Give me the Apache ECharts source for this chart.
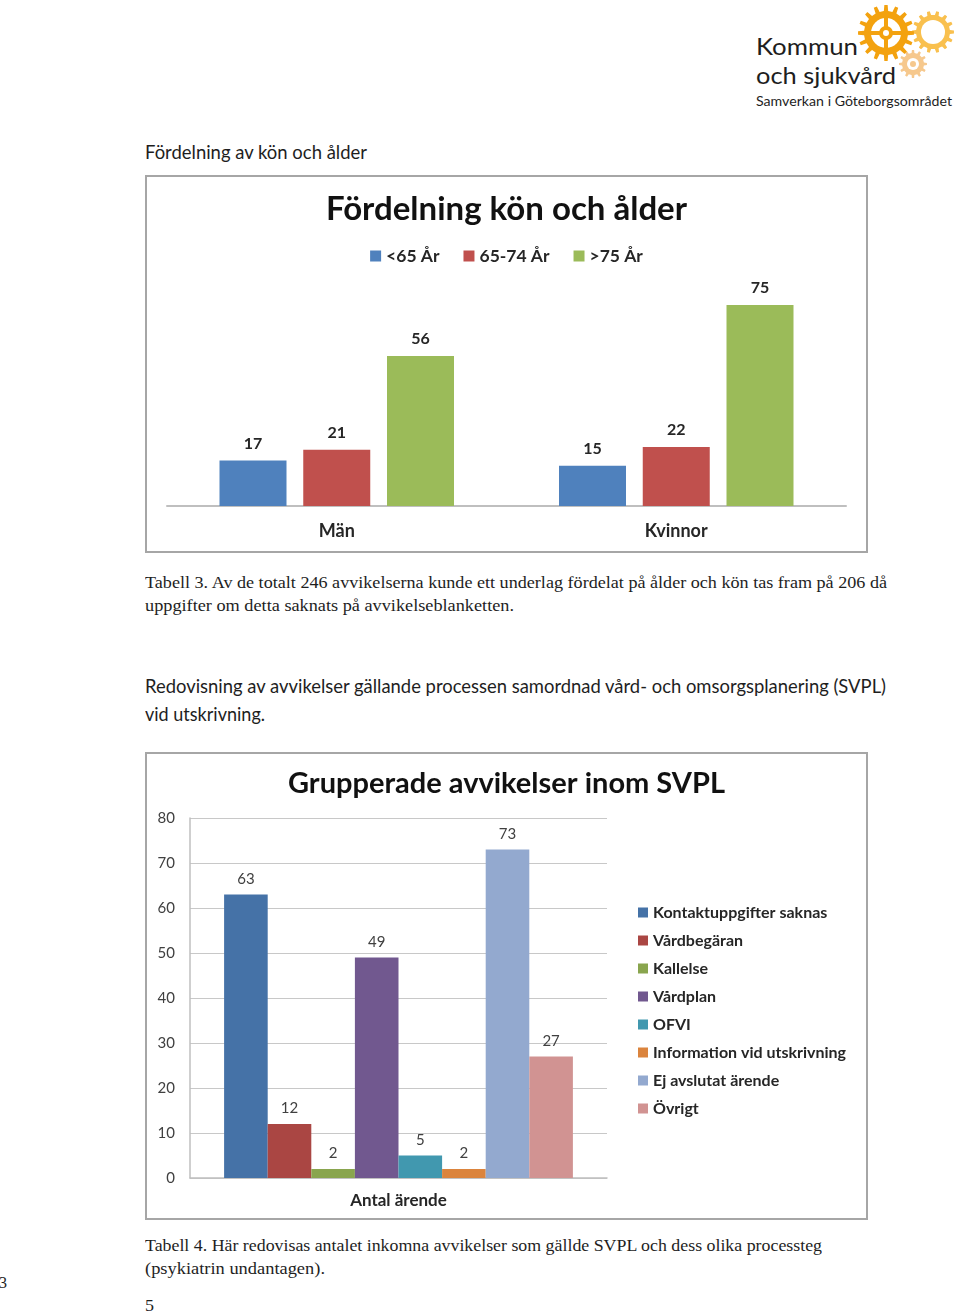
<!DOCTYPE html>
<html>
<head>
<meta charset="utf-8">
<script src="https://cdn.jsdelivr.net/npm/echarts@6/dist/echarts.min.js"></script>
<style>
  html, body { margin:0; padding:0; background:#fff; }
  body { width:960px; height:1313px; position:relative; overflow:hidden; font-family: Lato, "Noto Sans", sans-serif; }
  .t { position:absolute; white-space:nowrap; transform-origin:0 50%; color:#1e1e1e; }
  .sans { font-family: Lato, "Noto Sans", sans-serif; }
  .serif { font-family: "Liberation Serif", "DejaVu Serif", serif; }
  .box { position:absolute; border:2px solid #a6a6a6; box-sizing:border-box; }
  .chart { position:absolute; }
</style>
</head>
<body>
<script>
// ---------- Data ----------
const chart1Categories = ['Män', 'Kvinnor'];
const chart1SeriesNames = ['<65 År', '65-74 År', '>75 År'];
const chart1Under65 = [17, 15];
const chart1Age65to74 = [21, 22];
const chart1Over75 = [56, 75];

const chart2Category = ['Antal ärende'];
const chart2SeriesNames = ['Kontaktuppgifter saknas', 'Vårdbegäran', 'Kallelse', 'Vårdplan', 'OFVI', 'Information vid utskrivning', 'Ej avslutat ärende', 'Övrigt'];
const chart2Values = [63, 12, 2, 49, 5, 2, 73, 27];
const chart2Ticks = [0, 10, 20, 30, 40, 50, 60, 70, 80];
</script>

<!-- Logo -->
<svg style="position:absolute;left:0;top:0" width="960" height="120">
  <g id="gears"></g>
</svg>

<div class="box" style="left:145px;top:175px;width:723px;height:378px;"></div>
<div id="c1" class="chart" style="left:147px;top:177px;width:719px;height:374px;"></div>

<div class="box" style="left:145px;top:752px;width:723px;height:468px;"></div>
<div id="c2" class="chart" style="left:147px;top:754px;width:719px;height:464px;"></div>

<script>
// ---------- page text ----------
const texts = [
  {s:'Kommun', x:756, cy:46, fs:24, w:102, cls:'sans'},
  {s:'och sjukvård', x:756, cy:75, fs:24, w:140, cls:'sans'},
  {s:'Samverkan i Göteborgsområdet', x:756, cy:101, fs:13, w:196, cls:'sans'},
  {s:'Fördelning av kön och ålder', x:145, cy:152, fs:19, w:222, cls:'sans'},
  {s:'Tabell 3. Av de totalt 246 avvikelserna kunde ett underlag fördelat på ålder och kön tas fram på 206 då', x:145, cy:582, fs:16.5, w:742, cls:'serif'},
  {s:'uppgifter om detta saknats på avvikelseblanketten.', x:145, cy:605, fs:16.5, w:369, cls:'serif'},
  {s:'Redovisning av avvikelser gällande processen samordnad vård- och omsorgsplanering (SVPL)', x:145, cy:686, fs:19, w:741, cls:'sans'},
  {s:'vid utskrivning.', x:145, cy:714, fs:19, w:120, cls:'sans'},
  {s:'Tabell 4. Här redovisas antalet inkomna avvikelser som gällde SVPL och dess olika processteg', x:145, cy:1245, fs:16.5, w:677, cls:'serif'},
  {s:'(psykiatrin undantagen).', x:145, cy:1268, fs:16.5, w:180, cls:'serif'},
  {s:'5', x:145, cy:1305, fs:17, w:9, cls:'serif'},
  {s:'3', x:-1, cy:1282, fs:17, w:8, cls:'serif'}
];
texts.forEach(t => {
  const d = document.createElement('div');
  d.className = 't ' + t.cls;
  d.textContent = t.s;
  const lh = Math.round(t.fs * 1.25);
  d.style.fontSize = t.fs + 'px';
  d.style.lineHeight = lh + 'px';
  d.style.left = t.x + 'px';
  d.style.top = (t.cy - lh / 2) + 'px';
  document.body.appendChild(d);
  const w = d.getBoundingClientRect().width;
  if (w > 0) d.style.transform = 'scaleX(' + (t.w / w) + ')';
});

// ---------- gears (logo) ----------
function gearPath(cx, cy, rOut, rIn, teeth) {
  let p = '';
  const step = Math.PI * 2 / teeth;
  for (let i = 0; i < teeth; i++) {
    const a = i * step;
    const pts = [
      [a - step * 0.25, rIn], [a - step * 0.15, rOut], [a + step * 0.15, rOut], [a + step * 0.25, rIn], [a + step * 0.75, rIn]
    ];
    pts.forEach((q, j) => {
      const x = cx + Math.cos(q[0]) * q[1], y = cy + Math.sin(q[0]) * q[1];
      p += (i === 0 && j === 0 ? 'M' : 'L') + x.toFixed(2) + ' ' + y.toFixed(2) + ' ';
    });
  }
  return p + 'Z';
}
const g = document.getElementById('gears');
g.innerHTML =
  '<path d="' + gearPath(933, 32, 21, 17, 14) + '" fill="#f9c04e"/>' +
  '<circle cx="933" cy="32" r="12" fill="#fff"/>' +
  '<path d="' + gearPath(913, 64, 14, 11, 12) + '" fill="#f6c88d"/>' +
  '<circle cx="913" cy="64" r="6" fill="#fff"/>' +
  '<circle cx="913" cy="64" r="3" fill="#f6c88d"/>' +
  '<path d="' + gearPath(886, 33, 28, 22, 16) + '" fill="#f3a20f"/>' +
  '<circle cx="886" cy="33" r="15" fill="#fff"/>' +
  '<circle cx="886" cy="33" r="7" fill="#f3a20f"/>' +
  '<rect x="884" y="14" width="4" height="38" fill="#f3a20f"/>' +
  '<rect x="867" y="31" width="38" height="4" fill="#f3a20f"/>' +
  '<circle cx="886" cy="33" r="3" fill="#fff"/>';

// ---------- Chart 1 ----------
const colors1 = ['#4f81bd', '#c0504d', '#9bbb59'];
const c1 = echarts.init(document.getElementById('c1'));
const s1data = [chart1Under65, chart1Age65to74, chart1Over75];
c1.setOption({
  animation: false,
  title: {
    text: 'Fördelning kön och ålder', left: 'center', top: 11,
    textStyle: { fontFamily: 'Lato', fontWeight: 'bold', fontSize: 33, color: '#111' }
  },
  legend: {
    data: chart1SeriesNames, top: 65, left: 'center',
    itemWidth: 11, itemHeight: 11, itemGap: 24, icon: 'rect',
    textStyle: { fontFamily: 'Lato', fontWeight: 'bold', fontSize: 17.5, color: '#262626' }
  },
  grid: { left: 20, top: 114.6, width: 679, height: 214.4 },
  xAxis: {
    type: 'category', data: chart1Categories,
    axisLine: { lineStyle: { color: '#bfbfbf', width: 2 } },
    axisTick: { show: false },
    axisLabel: { margin: 16, fontFamily: 'Lato', fontWeight: 'bold', fontSize: 18, color: '#262626' }
  },
  yAxis: { type: 'value', min: 0, max: 80, show: false, splitLine: { show: false } },
  series: chart1SeriesNames.map((n, i) => ({
    name: n, type: 'bar', data: s1data[i], barWidth: 67, barGap: '25%',
    itemStyle: { color: colors1[i] },
    label: { show: true, position: 'top', distance: 9, fontFamily: 'Lato', fontWeight: 'bold', fontSize: 16, color: '#262626' }
  }))
});

// ---------- Chart 2 ----------
const colors2 = ['#4572a7', '#aa4643', '#89a54e', '#71588f', '#4198af', '#db843d', '#93a9cf', '#d19392'];
const c2 = echarts.init(document.getElementById('c2'));
c2.setOption({
  animation: false,
  title: {
    text: 'Grupperade avvikelser inom SVPL', left: 'center', top: 10,
    textStyle: { fontFamily: 'Lato', fontWeight: 'bold', fontSize: 29, color: '#111' }
  },
  legend: {
    data: chart2SeriesNames, orient: 'vertical', left: 486, top: 145,
    itemWidth: 10, itemHeight: 10, itemGap: 11, icon: 'rect', itemStyle: {},
    textStyle: { fontFamily: 'Lato', fontWeight: 'bold', fontSize: 16, lineHeight: 17, color: '#262626' }
  },
  grid: { left: 43, top: 64, width: 417, height: 360 },
  xAxis: {
    type: 'category', data: chart2Category,
    axisLine: { lineStyle: { color: '#bfbfbf', width: 1.5 } },
    axisTick: { show: false },
    axisLabel: { margin: 14, fontFamily: 'Lato', fontWeight: 'bold', fontSize: 17, color: '#262626' }
  },
  yAxis: {
    type: 'value', min: chart2Ticks[0], max: chart2Ticks[chart2Ticks.length - 1], interval: chart2Ticks[1] - chart2Ticks[0],
    axisLine: { show: true, lineStyle: { color: '#bfbfbf', width: 1.5 } },
    axisTick: { show: false },
    splitLine: { lineStyle: { color: '#c8c8c8', width: 1.2 } },
    axisLabel: { margin: 15, fontFamily: 'Lato', fontSize: 15, color: '#404040' }
  },
  series: chart2SeriesNames.map((n, i) => {
    const d = chart2Category.map(() => chart2Values[i]);
    return {
      name: n, type: 'bar', data: d, barWidth: 43.6, barGap: '0%',
      itemStyle: { color: colors2[i] },
      label: { show: true, position: 'top', distance: 8, fontFamily: 'Lato', fontSize: 15, color: '#404040' }
    };
  })
});
</script>
</body>
</html>
